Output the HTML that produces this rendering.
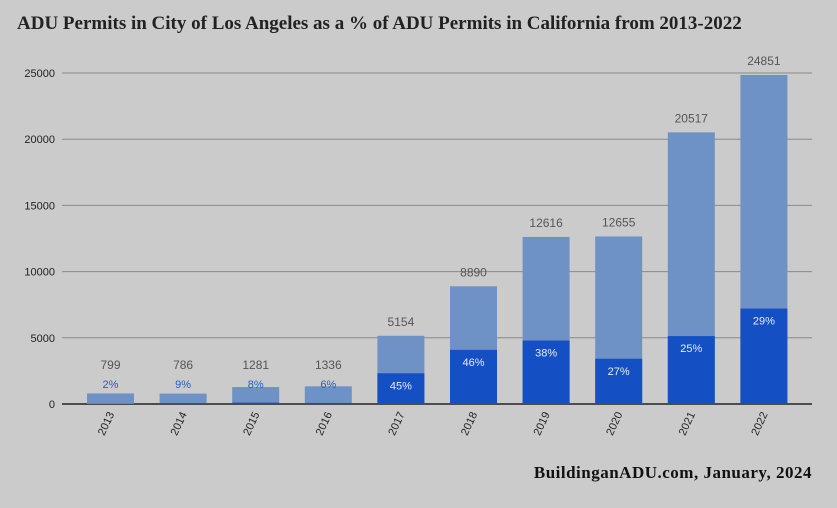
<!DOCTYPE html>
<html><head><meta charset="utf-8"><style>
body{margin:0;background:#cbcbcb;}
svg{display:block;font-family:"Liberation Sans",sans-serif;}
</style></head><body>
<svg width="837" height="508" viewBox="0 0 837 508">
<rect width="837" height="508" fill="#cbcbcb"/>
<text x="17" y="29" font-family="Liberation Serif,serif" font-weight="bold" font-size="19" fill="#222">ADU Permits in City of Los Angeles as a % of ADU Permits in California from 2013-2022</text>
<text x="812" y="478" text-anchor="end" font-family="Liberation Serif,serif" font-weight="bold" font-size="17" fill="#111" letter-spacing="0.5">BuildinganADU.com, January, 2024</text>
<g id="grid"></g><g id="bars"></g><g id="labels"></g>
</svg>
<script>
const years=["2013","2014","2015","2016","2017","2018","2019","2020","2021","2022"];
const totals=[799,786,1281,1336,5154,8890,12616,12655,20517,24851];
const pcts=[2,9,8,6,45,46,38,27,25,29];
const yTicks=[0,5000,10000,15000,20000,25000];
const NS="http://www.w3.org/2000/svg";
const x0=62,x1=812,y0=404,yTop=73,yMax=25000;
const y=v=>y0-(v/yMax)*(y0-yTop);
const step=72.6,first=110.5,bw=47;
const xc=i=>first+i*step;
function mk(t,a,p){const e=document.createElementNS(NS,t);for(const k in a)e.setAttribute(k,a[k]);p.appendChild(e);return e;}
const g=document.getElementById('grid'),b=document.getElementById('bars'),l=document.getElementById('labels');
yTicks.forEach(v=>{
 const ln=mk('line',{x1:x0,x2:x1,y1:y(v),y2:y(v),stroke:v===0?'#222':'#8a8a8a','stroke-width':v===0?1.5:1},g);
 
 
 const t=mk('text',{x:55,y:y(v)+4,'text-anchor':'end','font-size':11,fill:'#222'},g);
 t.textContent=v;
 
 
});
years.forEach((yr,i)=>{
 const tot=totals[i],la=Math.round(tot*pcts[i]/100);
 const r1=mk('rect',{x:xc(i)-bw/2,y:y(tot),width:bw,height:y0-y(tot),fill:'#6f92c6'},b);
 
 
 const r2=mk('rect',{x:xc(i)-bw/2,y:y(la),width:bw,height:y0-y(la),fill:'#1450c4'},b);
 
 
 const tl=mk('text',{x:xc(i),y:Math.min(y(tot)-10,369),'text-anchor':'middle','font-size':12,fill:'#555'},l);
 tl.textContent=tot;
 
 
 const inside=y0-y(la)>25;
 const pl=mk('text',{x:xc(i),y:inside?y(la)+16:388,'text-anchor':'middle','font-size':11,fill:inside?'#e8ecf5':'#2a5cc0'},l);
 pl.textContent=pcts[i]+'%';
 
 
 const xl=mk('text',{x:0,y:0,'text-anchor':'end','font-size':11,fill:'#222',transform:`translate(${xc(i)+4},${y0+10}) rotate(-65)`},l);
 xl.textContent=yr;
 
 
});
</script>
</body></html>
